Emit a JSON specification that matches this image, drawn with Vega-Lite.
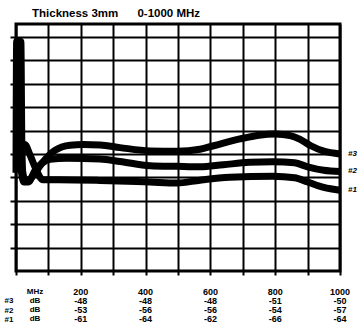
{
  "$schema": "https://vega.github.io/schema/vega-lite/v6.json",
  "background": "white",
  "padding": {"top": 6, "left": 4, "right": 2, "bottom": 0},
  "spacing": 9,
  "config": {"font": "Liberation Sans", "concat": {"spacing": 9}},
  "datasets": {
    "curves": [
      {"series": "#3", "mhz": 7, "db": -2}, {"series": "#3", "mhz": 15, "db": -2}, {"series": "#3", "mhz": 18, "db": -45}, {"series": "#3", "mhz": 21, "db": -58}, {"series": "#3", "mhz": 28, "db": -61}, {"series": "#3", "mhz": 40, "db": -61}, {"series": "#3", "mhz": 54, "db": -59}, {"series": "#3", "mhz": 80, "db": -54}, {"series": "#3", "mhz": 120, "db": -48.5}, {"series": "#3", "mhz": 167, "db": -46.3}, {"series": "#3", "mhz": 207, "db": -46}, {"series": "#3", "mhz": 260, "db": -46.2}, {"series": "#3", "mhz": 321, "db": -47.3}, {"series": "#3", "mhz": 414, "db": -48.7}, {"series": "#3", "mhz": 497, "db": -48.9}, {"series": "#3", "mhz": 568, "db": -48}, {"series": "#3", "mhz": 610, "db": -46.5}, {"series": "#3", "mhz": 691, "db": -43.6}, {"series": "#3", "mhz": 750, "db": -42}, {"series": "#3", "mhz": 800, "db": -41.5}, {"series": "#3", "mhz": 846, "db": -42.2}, {"series": "#3", "mhz": 877, "db": -43.8}, {"series": "#3", "mhz": 910, "db": -46.5}, {"series": "#3", "mhz": 950, "db": -48.8}, {"series": "#3", "mhz": 1000, "db": -50},
      {"series": "#2", "mhz": 3, "db": -2}, {"series": "#2", "mhz": 9, "db": -2}, {"series": "#2", "mhz": 13, "db": -40}, {"series": "#2", "mhz": 17, "db": -58}, {"series": "#2", "mhz": 25, "db": -62}, {"series": "#2", "mhz": 38, "db": -62}, {"series": "#2", "mhz": 59, "db": -57}, {"series": "#2", "mhz": 80, "db": -54}, {"series": "#2", "mhz": 105, "db": -52.3}, {"series": "#2", "mhz": 157, "db": -51.8}, {"series": "#2", "mhz": 259, "db": -52.2}, {"series": "#2", "mhz": 321, "db": -53.2}, {"series": "#2", "mhz": 414, "db": -55}, {"series": "#2", "mhz": 497, "db": -55.3}, {"series": "#2", "mhz": 568, "db": -55.5}, {"series": "#2", "mhz": 640, "db": -54.6}, {"series": "#2", "mhz": 720, "db": -53.6}, {"series": "#2", "mhz": 793, "db": -53.3}, {"series": "#2", "mhz": 860, "db": -53.8}, {"series": "#2", "mhz": 900, "db": -55.5}, {"series": "#2", "mhz": 950, "db": -57}, {"series": "#2", "mhz": 1000, "db": -57.5},
      {"series": "#1", "mhz": 0, "db": -58}, {"series": "#1", "mhz": 2, "db": -2}, {"series": "#1", "mhz": 6, "db": -2}, {"series": "#1", "mhz": 10, "db": -42}, {"series": "#1", "mhz": 15, "db": -50}, {"series": "#1", "mhz": 27, "db": -46}, {"series": "#1", "mhz": 42, "db": -50}, {"series": "#1", "mhz": 57, "db": -55}, {"series": "#1", "mhz": 83, "db": -61}, {"series": "#1", "mhz": 130, "db": -61}, {"series": "#1", "mhz": 259, "db": -61.3}, {"series": "#1", "mhz": 414, "db": -62}, {"series": "#1", "mhz": 497, "db": -62.4}, {"series": "#1", "mhz": 568, "db": -61.2}, {"series": "#1", "mhz": 660, "db": -60}, {"series": "#1", "mhz": 793, "db": -59.5}, {"series": "#1", "mhz": 860, "db": -60.2}, {"series": "#1", "mhz": 900, "db": -62}, {"series": "#1", "mhz": 950, "db": -64.3}, {"series": "#1", "mhz": 1000, "db": -65.5}
    ],
    "table": [
      {"row": "MHz", "mhz": 200, "val": "200"}, {"row": "MHz", "mhz": 400, "val": "400"}, {"row": "MHz", "mhz": 600, "val": "600"}, {"row": "MHz", "mhz": 800, "val": "800"}, {"row": "MHz", "mhz": 1000, "val": "1000"},
      {"row": "#3", "mhz": 200, "val": "-48"}, {"row": "#3", "mhz": 400, "val": "-48"}, {"row": "#3", "mhz": 600, "val": "-48"}, {"row": "#3", "mhz": 800, "val": "-51"}, {"row": "#3", "mhz": 1000, "val": "-50"},
      {"row": "#2", "mhz": 200, "val": "-53"}, {"row": "#2", "mhz": 400, "val": "-56"}, {"row": "#2", "mhz": 600, "val": "-56"}, {"row": "#2", "mhz": 800, "val": "-54"}, {"row": "#2", "mhz": 1000, "val": "-57"},
      {"row": "#1", "mhz": 200, "val": "-61"}, {"row": "#1", "mhz": 400, "val": "-64"}, {"row": "#1", "mhz": 600, "val": "-62"}, {"row": "#1", "mhz": 800, "val": "-66"}, {"row": "#1", "mhz": 1000, "val": "-64"}
    ],
    "units": [
      {"row": "MHz", "unit": "MHz"}, {"row": "#3", "unit": "dB"}, {"row": "#2", "unit": "dB"}, {"row": "#1", "unit": "dB"}
    ]
  },
  "vconcat": [
    {
      "width": 324,
      "height": 247,
      "title": {"text": "Thickness 3mm\u00a0\u00a0\u00a0\u00a0\u00a0\u00a00-1000 MHz", "anchor": "start", "dx": 23, "fontSize": 11.5, "fontWeight": "bold", "font": "Liberation Sans", "color": "black", "offset": 5},
      "view": {"stroke": "black", "strokeWidth": 3},
      "data": {"name": "curves"},
      "encoding": {
        "x": {"field": "mhz", "type": "quantitative", "scale": {"domain": [0, 1000], "nice": false},
              "axis": {"values": [0, 100, 200, 300, 400, 500, 600, 700, 800, 900, 1000], "labels": false, "title": null, "domain": false, "ticks": true, "tickSize": 4, "tickWidth": 2, "tickColor": "black", "grid": true, "gridColor": "black", "gridWidth": 2, "gridOpacity": 1}},
        "y": {"field": "db", "type": "quantitative", "scale": {"domain": [-100, 5.5], "nice": false, "zero": false},
              "axis": {"values": [-90, -80, -70, -60, -50, -40, -30, -20, -10, 0], "labels": false, "title": null, "domain": false, "ticks": true, "tickSize": 6, "tickWidth": 2, "tickColor": "black", "grid": true, "gridColor": "black", "gridWidth": 2, "gridOpacity": 1}}
      },
      "layer": [
        {"mark": {"type": "line", "interpolate": "monotone", "color": "black", "strokeWidth": 7, "strokeJoin": "round"},
         "encoding": {"detail": {"field": "series"}}},
        {"transform": [{"filter": "datum.mhz == 1000"}],
         "mark": {"type": "text", "align": "left", "baseline": "middle", "dx": 8, "fontSize": 8, "fontWeight": "bold", "fontStyle": "italic", "color": "black"},
         "encoding": {"text": {"field": "series"}}}
      ]
    },
    {
      "width": 324,
      "height": 37,
      "view": {"stroke": null},
      "encoding": {
        "y": {"field": "row", "type": "ordinal", "scale": {"domain": ["MHz", "#3", "#2", "#1"]},
              "axis": {"title": null, "domain": false, "ticks": false, "labelExpr": "datum.value == 'MHz' ? '' : datum.value", "labelFontSize": 8, "labelFontWeight": "bold", "labelColor": "black", "labelPadding": 3}}
      },
      "layer": [
        {"data": {"name": "table"},
         "mark": {"type": "text", "fontSize": 9, "fontWeight": "bold", "color": "black", "baseline": "middle"},
         "encoding": {
           "x": {"field": "mhz", "type": "quantitative", "scale": {"domain": [0, 1000], "nice": false}, "axis": null},
           "text": {"field": "val"}}},
        {"data": {"name": "units"},
         "mark": {"type": "text", "fontSize": 8, "fontWeight": "bold", "color": "black", "baseline": "middle", "dx": 19},
         "encoding": {
           "x": {"datum": 0, "type": "quantitative", "scale": {"domain": [0, 1000], "nice": false}, "axis": null},
           "text": {"field": "unit"}}}
      ]
    }
  ]
}
